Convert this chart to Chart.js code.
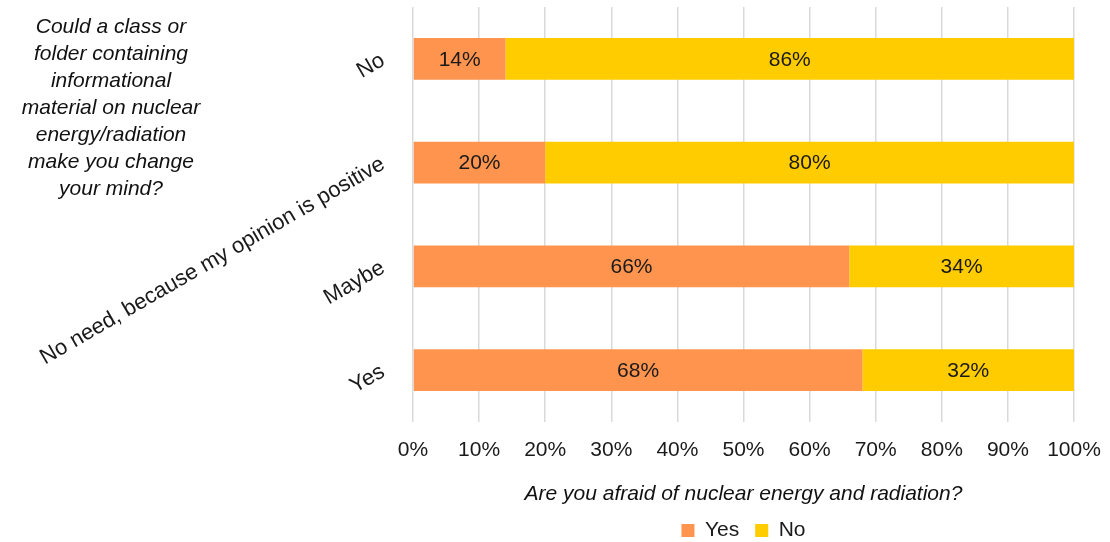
<!DOCTYPE html>
<html>
<head>
<meta charset="utf-8">
<script src="https://cdn.jsdelivr.net/npm/chart.js@4"></script>
<style>
  html, body { margin: 0; padding: 0; background: #fff; overflow: hidden; }
  #clip { width: 1110px; height: 542px; overflow: hidden; }
  #wrap { width: 1110px; height: 551px; }
</style>
</head>
<body>
<div id="clip"><div id="wrap"><canvas id="chart"></canvas></div></div>
<script>
const categories = ['No', 'No need, because my opinion is positive', 'Maybe', 'Yes'];
const yesValues = [14, 20, 66, 68];
const noValues = [86, 80, 34, 32];
const xTicks = [0, 10, 20, 30, 40, 50, 60, 70, 80, 90, 100];
const yTitleLines = ['Could a class or', 'folder containing', 'informational',
  'material on nuclear', 'energy/radiation', 'make you change', 'your mind?'];
const xTitle = 'Are you afraid of nuclear energy and radiation?';

Chart.defaults.font.family = '"Liberation Sans", Arial, sans-serif';
Chart.defaults.font.size = 21;
Chart.defaults.color = '#1a1a1a';

// percentage labels in the middle of each bar segment
const barLabels = {
  id: 'barLabels',
  afterDatasetsDraw(chart) {
    const ctx = chart.ctx;
    ctx.save();
    ctx.font = '21px "Liberation Sans", Arial, sans-serif';
    ctx.fillStyle = '#1a1a1a';
    ctx.textAlign = 'center';
    ctx.textBaseline = 'middle';
    chart.data.datasets.forEach((ds, i) => {
      chart.getDatasetMeta(i).data.forEach((bar, j) => {
        ctx.fillText(ds.data[j] + '%', (bar.x + bar.base) / 2, bar.y + 1);
      });
    });
    ctx.restore();
  }
};

// the y axis title is a horizontal text block top-left
const yTitle = {
  id: 'yTitle',
  afterDraw(chart) {
    const ctx = chart.ctx;
    ctx.save();
    ctx.font = 'italic 21px "Liberation Sans", Arial, sans-serif';
    ctx.fillStyle = '#111';
    ctx.textAlign = 'center';
    ctx.textBaseline = 'middle';
    yTitleLines.forEach((line, i) => ctx.fillText(line, 111, 27 + i * 27));
    ctx.restore();
  }
};

new Chart(document.getElementById('chart'), {
  type: 'bar',
  data: {
    labels: categories,
    datasets: [
      { label: 'Yes', data: yesValues, backgroundColor: '#FF944F', barPercentage: 0.506, categoryPercentage: 0.8 },
      { label: 'No', data: noValues, backgroundColor: '#FFCC00', barPercentage: 0.506, categoryPercentage: 0.8 }
    ]
  },
  options: {
    indexAxis: 'y',
    responsive: true,
    maintainAspectRatio: false,
    animation: false,
    layout: { padding: { left: 0, right: 36, top: 7, bottom: 0 } },
    scales: {
      x: {
        stacked: true,
        min: 0,
        max: 100,
        afterBuildTicks: s => { s.ticks = xTicks.map(v => ({ value: v })); },
        ticks: { callback: v => v + '%', padding: 16, maxRotation: 0 },
        grid: { color: '#D9D9D9', lineWidth: 1.5, drawTicks: false },
        border: { display: false },
        title: { display: true, text: xTitle, font: { style: 'italic', size: 21 }, color: '#111', padding: { top: 2, bottom: -3 } },
        afterFit: s => { s.paddingLeft = 0; s.paddingRight = 0; s.height = 82; }
      },
      y: {
        stacked: true,
        grid: { display: false },
        border: { display: false },
        ticks: { minRotation: 30, maxRotation: 30, padding: 22, font: { size: 22 } },
        afterFit: s => { s.width = 413; s.paddingTop = 0; s.paddingBottom = 0; }
      }
    },
    plugins: {
      legend: {
        position: 'bottom',
        fullSize: false,
        labels: { boxWidth: 13, boxHeight: 13, padding: 16, font: { size: 21 } }
      },
      tooltip: { enabled: false }
    }
  },
  plugins: [barLabels, yTitle]
});
</script>
</body>
</html>
